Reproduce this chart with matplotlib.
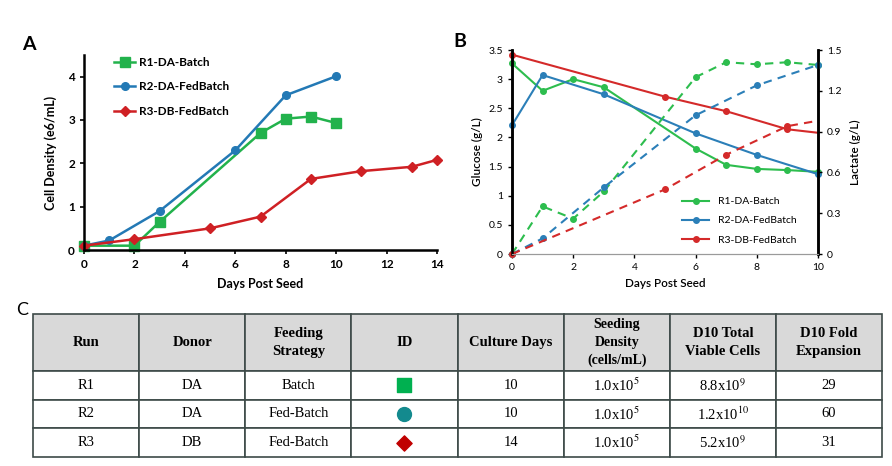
import matplotlib
matplotlib.use('Agg')
import matplotlib.pyplot as plt

plt.rcParams['font.family'] = ['Lato', 'DejaVu Sans']
plt.rcParams['mathtext.fontset'] = 'stix'

# Datos panel A: densidad celular
a_r1_dias = [0, 2, 3, 7, 8, 9, 10]
a_r1_val = [0.10, 0.10, 0.65, 2.70, 3.03, 3.08, 2.93]
a_r2_dias = [0, 1, 3, 6, 8, 10]
a_r2_val = [0.10, 0.22, 0.90, 2.30, 3.57, 4.01]
a_r3_dias = [0, 2, 5, 7, 9, 11, 13, 14]
a_r3_val = [0.10, 0.25, 0.50, 0.77, 1.64, 1.82, 1.92, 2.08]

# Datos panel B: glucosa (solida) y lactato (punteada)
b_r1_dias = [0, 1, 2, 3, 6, 7, 8, 9, 10]
b_r1_glu = [3.27, 2.80, 3.00, 2.86, 1.81, 1.53, 1.46, 1.44, 1.41]
b_r1_lac = [0.00, 0.35, 0.26, 0.46, 1.30, 1.41, 1.395, 1.41, 1.39]
b_r2_dias = [0, 1, 3, 6, 8, 10]
b_r2_glu = [2.21, 3.07, 2.74, 2.07, 1.70, 1.37]
b_r2_lac = [0.00, 0.115, 0.49, 1.02, 1.24, 1.39]
b_r3_dias = [0, 5, 7, 9, 10]
b_r3_glu = [3.42, 2.70, 2.45, 2.14, 2.08]
b_r3_lac = [0.00, 0.475, 0.73, 0.94, 0.98]

# Datos panel C: tabla
encabezados = ['Run', 'Donor', 'Feeding\nStrategy', 'ID', 'Culture Days',
               'Seeding\nDensity\n(cells/mL)', 'D10 Total\nViable Cells', 'D10 Fold\nExpansion']
filas = [
    ['R1', 'DA', 'Batch', '', '10', '1.0x10$^{5}$', '8.8x10$^{9}$', '29'],
    ['R2', 'DA', 'Fed-Batch', '', '10', '1.0x10$^{5}$', '1.2x10$^{10}$', '60'],
    ['R3', 'DB', 'Fed-Batch', '', '14', '1.0x10$^{5}$', '5.2x10$^{9}$', '31'],
]
id_marcadores = ['s', 'o', 'D']
id_colores = ['#00b050', '#138a8e', '#c00000']

verde = '#22b24c'
azul = '#2379b5'
rojo = '#cf2024'

fig = plt.figure(figsize=(8.92, 4.66), dpi=100)

# Panel A
axA = fig.add_axes([0.0942, 0.4635, 0.3957, 0.4185])
axA.plot(a_r1_dias, a_r1_val, color=verde, marker='s', ms=7, lw=1.8, label='R1-DA-Batch')
axA.plot(a_r2_dias, a_r2_val, color=azul, marker='o', ms=5.5, lw=1.8, label='R2-DA-FedBatch')
axA.plot(a_r3_dias, a_r3_val, color=rojo, marker='D', ms=5.5, lw=1.8, label='R3-DB-FedBatch')
axA.set_xlim(0, 14)
axA.set_ylim(0, 4.5)
axA.set_xticks(range(0, 15, 2))
axA.set_yticks(range(0, 5))
axA.spines[['top', 'right']].set_visible(False)
axA.spines[['left', 'bottom']].set_linewidth(1.8)
axA.tick_params(labelsize=8.5, length=3, width=1.2)
for t in axA.get_xticklabels() + axA.get_yticklabels():
    t.set_fontweight('bold')
axA.set_xlabel('Days Post Seed', fontsize=9, fontweight='bold', labelpad=6)
axA.set_ylabel('Cell Density (e6/mL)', fontsize=9, fontweight='bold', labelpad=8)
for ln in axA.lines:
    ln.set_clip_on(False)
axA.legend(loc='upper left', bbox_to_anchor=(0.055, 1.045), frameon=False,
           prop={'size': 8.5, 'weight': 'bold'}, labelspacing=1.15,
           handlelength=1.8, handletextpad=0.3)
fig.text(0.025, 0.905, 'A', fontsize=14, fontweight='bold', va='center')

# Panel B
axB = fig.add_axes([0.574, 0.4549, 0.343, 0.4378])
axB2 = axB.twinx()
series = [
    (b_r1_dias, b_r1_glu, b_r1_lac, '#2dbd4e', 'R1-DA-Batch'),
    (b_r2_dias, b_r2_glu, b_r2_lac, '#2b7fb8', 'R2-DA-FedBatch'),
    (b_r3_dias, b_r3_glu, b_r3_lac, '#d42a2a', 'R3-DB-FedBatch'),
]
for dias, glu, lac, col, nombre in series:
    mk = [i for i, d in enumerate(dias) if d < 10 or nombre != 'R3-DB-FedBatch']
    axB.plot(dias, glu, color=col, lw=1.5, marker='o', ms=4, markevery=mk, label=nombre, clip_on=False)
    axB2.plot(dias, lac, color=col, lw=1.5, ls=(0, (4, 3)), marker='o', ms=4, markevery=mk, clip_on=False)
axB.set_xlim(0, 10)
axB.set_ylim(0, 3.5)
axB2.set_ylim(0, 1.5)
axB.set_xticks(range(0, 11, 2))
axB.set_yticks([0, 0.5, 1, 1.5, 2, 2.5, 3, 3.5])
axB.set_yticklabels(['0', '0.5', '1', '1.5', '2', '2.5', '3', '3.5'])
axB2.set_yticks([0, 0.3, 0.6, 0.9, 1.2, 1.5])
axB2.set_yticklabels(['0', '0.3', '0.6', '0.9', '1.2', '1.5'])
for ax in (axB, axB2):
    ax.spines['top'].set_visible(False)
    ax.spines['left'].set_linewidth(1.8)
    ax.spines['right'].set_linewidth(1.8)
    ax.spines['bottom'].set_color('#9a9a9a')
    ax.spines['bottom'].set_linewidth(0.8)
    ax.tick_params(labelsize=7.5, length=3, width=1)
axB.set_xlabel('Days Post Seed', fontsize=8.5, fontweight='semibold', labelpad=4)
axB.set_ylabel('Glucose (g/L)', fontsize=8.5, fontweight='semibold', labelpad=4)
axB2.set_ylabel('Lactate (g/L)', fontsize=8.5, fontweight='semibold', labelpad=6)
axB.legend(loc='lower right', bbox_to_anchor=(0.96, 0.0), frameon=False,
           prop={'size': 7.5}, labelspacing=0.95, handlelength=2.6)
fig.text(0.508, 0.912, 'B', fontsize=14, fontweight='bold', va='center')

# Panel C: tabla
fig.text(0.018, 0.334, 'C', fontsize=13, va='center')
axC = fig.add_axes([33 / 892, 9 / 466, 849 / 892, 143 / 466])
axC.axis('off')
tabla = axC.table(cellText=filas, colLabels=encabezados, cellLoc='center',
                  bbox=[0, 0, 1, 1])
tabla.auto_set_font_size(False)
alto_enc = 57
alto_fila = 28.7
for (r, c), celda in tabla.get_celld().items():
    celda.set_edgecolor('#3d4a48')
    celda.set_linewidth(1.2)
    celda.get_text().set_fontfamily(['Liberation Serif', 'DejaVu Serif'])
    celda.get_text().set_fontsize(10.5)
    if r == 0:
        celda.set_height(alto_enc)
        celda.set_facecolor('#d9d9d9')
        celda.get_text().set_fontweight('bold')
        celda.get_text().set_linespacing(1.45)
    else:
        celda.set_height(alto_fila)
tabla[0, 5].get_text().set_fontsize(10)
total = alto_enc + 3 * alto_fila
for i, (mk, col) in enumerate(zip(id_marcadores, id_colores)):
    yc = 1 - (alto_enc + (i + 0.5) * alto_fila) / total
    axC.scatter([3.5 / 8], [yc], marker=mk, s=[110, 100, 60][i], color=col,
                transform=axC.transAxes, zorder=5, clip_on=False)

fig.savefig('out.png', dpi=100)
